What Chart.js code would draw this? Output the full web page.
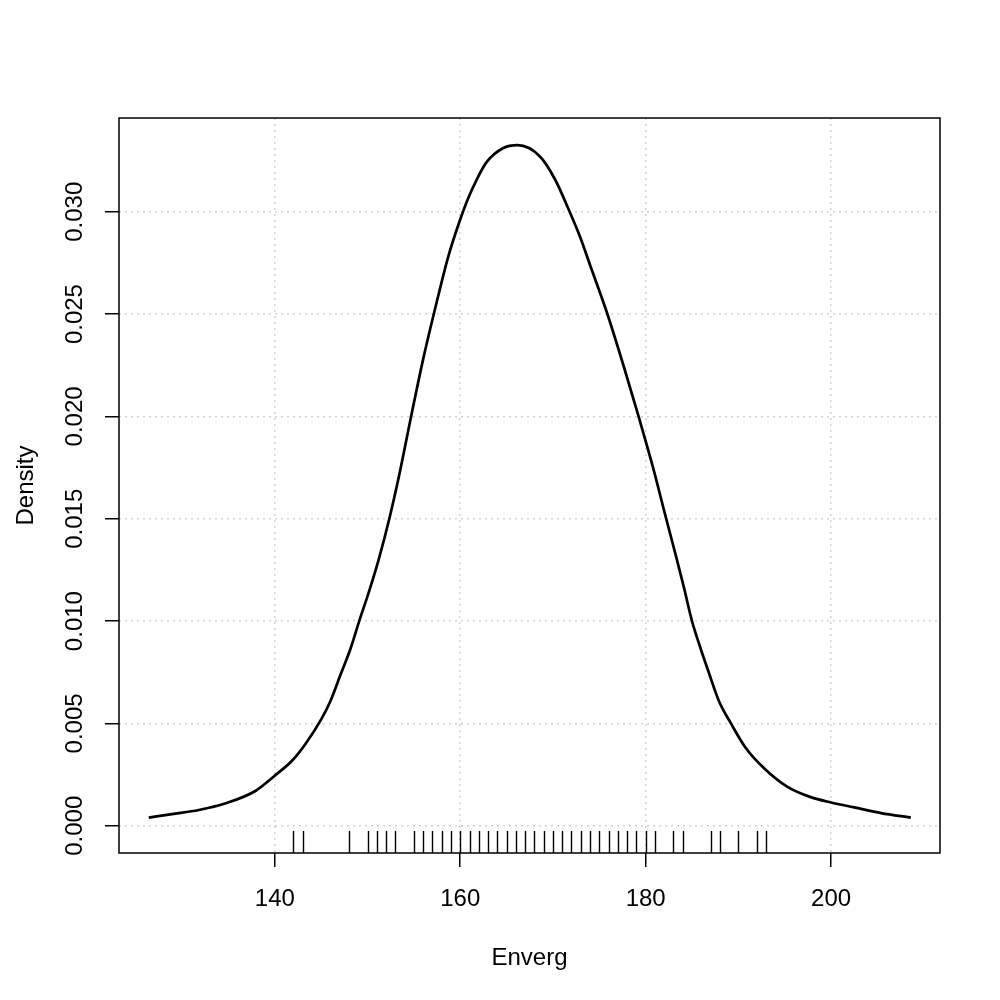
<!DOCTYPE html>
<html>
<head>
<meta charset="utf-8">
<script src="https://cdn.jsdelivr.net/npm/chart.js@4/dist/chart.umd.min.js"></script>
<style>
  body { margin: 0; background: #fff; }
  #densityChart { display: block; }
</style>
</head>
<body>
<canvas id="densityChart" width="1000" height="1000"></canvas>
<script>
// density curve
var densX = [126.4, 128.9, 131.8, 134.7, 137.9, 140.0, 141.9, 143.3, 145.0, 146.0,
             147.1, 148.2, 149.1, 150.2, 151.2, 152.4, 153.4, 154.7, 156.0, 157.2,
             158.7, 159.9, 160.8, 161.7, 162.8, 164.6, 166.2, 168.6, 170.2, 171.8,
             172.9, 174.0, 175.8, 177.6, 179.3, 180.8, 182.1, 183.2, 184.1, 185.0,
             185.9, 186.8, 187.9, 189.2, 190.8, 192.8, 195.3, 197.8, 200.0, 202.5,
             205.4, 208.6];
var densY = [0.0004, 0.00057, 0.00077, 0.0011, 0.0017, 0.00245, 0.0032, 0.0040, 0.0052, 0.0061,
             0.0074, 0.0087, 0.0100, 0.0115, 0.0130, 0.0151, 0.0171, 0.0200, 0.0228, 0.0251,
             0.0278, 0.0295, 0.0306, 0.0315, 0.0324, 0.0331, 0.03325, 0.0327, 0.0316, 0.0300,
             0.0288, 0.0274, 0.0251, 0.0225, 0.0199, 0.0175, 0.0152, 0.0133, 0.0117, 0.0100,
             0.0087, 0.0075, 0.0061, 0.0050, 0.0038, 0.0028, 0.0019, 0.0014, 0.00114, 0.0009,
             0.00062, 0.0004];

// observations shown as the rug
var rugValues = [142, 143, 148, 150, 151, 152, 153, 155, 156, 157, 158, 159, 160,
                 161, 162, 163, 164, 165, 166, 167, 168, 169, 170, 171, 172, 173,
                 174, 175, 176, 177, 178, 179, 180, 181, 183, 184, 187, 188, 190,
                 192, 193];

var xTicks = [140, 160, 180, 200];
var xTickLabels = ['140', '160', '180', '200'];
var yTicks = [0, 0.005, 0.010, 0.015, 0.020, 0.025, 0.030];
var yTickLabels = ['0.000', '0.005', '0.010', '0.015', '0.020', '0.025', '0.030'];

var xTitle = 'Enverg';
var yTitle = 'Density';

var FONT = '24px "Liberation Sans", Arial, sans-serif';

var points = densX.map(function (x, i) { return { x: x, y: densY[i] }; });

// box, rug, tick labels and titles in R base-graphics style
var rStylePlugin = {
    id: 'rStyle',
    beforeDraw: function (chart) {
        var ctx = chart.ctx;
        ctx.save();
        ctx.fillStyle = '#fff';
        ctx.fillRect(0, 0, chart.width, chart.height);
        ctx.restore();
    },
    afterDraw: function (chart) {
        var ctx = chart.ctx;
        var area = chart.chartArea;
        var xs = chart.scales.x;
        var ys = chart.scales.y;

        ctx.save();

        // plot box
        ctx.strokeStyle = '#000';
        ctx.lineWidth = 1.5;
        ctx.strokeRect(area.left, area.top, area.right - area.left, area.bottom - area.top);

        // rug
        var rugLen = (area.bottom - area.top) * 0.03;
        ctx.lineWidth = 1.4;
        ctx.beginPath();
        rugValues.forEach(function (v) {
            var px = Math.round(xs.getPixelForValue(v)) + 0.5;
            ctx.moveTo(px, area.bottom);
            ctx.lineTo(px, area.bottom - rugLen);
        });
        ctx.stroke();

        ctx.fillStyle = '#000';
        ctx.font = FONT;
        ctx.textAlign = 'center';
        ctx.textBaseline = 'alphabetic';

        // x tick labels
        xTicks.forEach(function (v, i) {
            ctx.fillText(xTickLabels[i], xs.getPixelForValue(v), area.bottom + 53);
        });

        // y tick labels, rotated like R's las = 0
        yTicks.forEach(function (v, i) {
            ctx.save();
            ctx.translate(area.left - 37, ys.getPixelForValue(v));
            ctx.rotate(-Math.PI / 2);
            ctx.fillText(yTickLabels[i], 0, 0);
            ctx.restore();
        });

        // axis titles
        ctx.fillText(xTitle, (area.left + area.right) / 2, area.bottom + 112);
        ctx.save();
        ctx.translate(area.left - 86, (area.top + area.bottom) / 2);
        ctx.rotate(-Math.PI / 2);
        ctx.fillText(yTitle, 0, 0);
        ctx.restore();

        ctx.restore();
    }
};

function gridOpts() {
    return {
        color: '#d3d3d3',
        lineWidth: 1.5,
        drawTicks: true,
        tickLength: 14,
        tickColor: '#000',
        tickWidth: 1.5,
        tickBorderDash: []
    };
}

var densityChart = new Chart(document.getElementById('densityChart'), {
    type: 'scatter',
    data: {
        datasets: [{
            label: 'density',
            data: points,
            showLine: true,
            borderColor: '#000',
            borderWidth: 2.7,
            pointRadius: 0,
            fill: false,
            cubicInterpolationMode: 'monotone'
        }]
    },
    options: {
        responsive: false,
        devicePixelRatio: 1,
        animation: false,
        layout: {
            padding: { left: 105, right: 60, top: 118, bottom: 133 }
        },
        plugins: {
            legend: { display: false },
            tooltip: { enabled: false }
        },
        scales: {
            x: {
                type: 'linear',
                min: 123.19,
                max: 211.75,
                grid: gridOpts(),
                border: { display: false, dash: [2, 4] },
                ticks: { display: false },
                afterBuildTicks: function (scale) {
                    scale.ticks = xTicks.map(function (v) { return { value: v }; });
                }
            },
            y: {
                type: 'linear',
                min: -0.00133,
                max: 0.03458,
                grid: gridOpts(),
                border: { display: false, dash: [2, 4] },
                ticks: { display: false },
                afterBuildTicks: function (scale) {
                    scale.ticks = yTicks.map(function (v) { return { value: v }; });
                }
            }
        }
    },
    plugins: [rStylePlugin]
});
</script>
</body>
</html>
